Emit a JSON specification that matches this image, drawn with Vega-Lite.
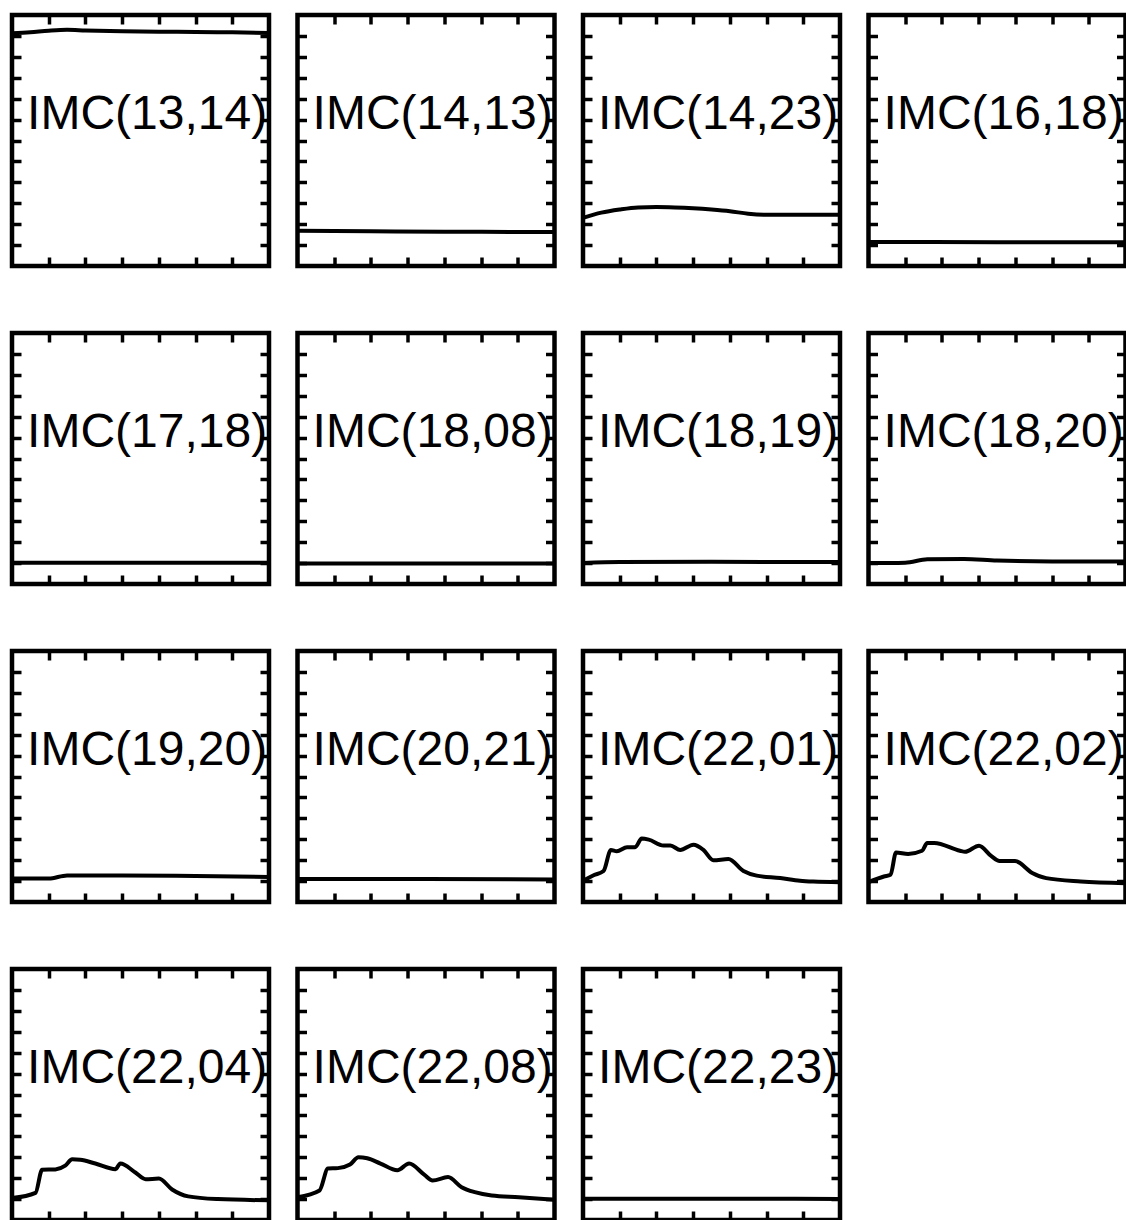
{
  "$schema": "https://vega.github.io/schema/vega-lite/v6.json",
  "padding": {"left": 1, "top": 11, "right": 0, "bottom": 0},
  "background": "white",
  "data": {"values": [
    {"p": "IMC(13,14)", "x": 0, "y": 11.13}, {"p": "IMC(13,14)", "x": 0.5, "y": 11.18}, {"p": "IMC(13,14)", "x": 1, "y": 11.25}, {"p": "IMC(13,14)", "x": 1.5, "y": 11.29}, {"p": "IMC(13,14)", "x": 2, "y": 11.26}, {"p": "IMC(13,14)", "x": 3, "y": 11.22}, {"p": "IMC(13,14)", "x": 4, "y": 11.2}, {"p": "IMC(13,14)", "x": 5, "y": 11.19}, {"p": "IMC(13,14)", "x": 6, "y": 11.17}, {"p": "IMC(13,14)", "x": 7, "y": 11.14},
    {"p": "IMC(14,13)", "x": 0, "y": 1.68}, {"p": "IMC(14,13)", "x": 2, "y": 1.66}, {"p": "IMC(14,13)", "x": 4, "y": 1.64}, {"p": "IMC(14,13)", "x": 6, "y": 1.63}, {"p": "IMC(14,13)", "x": 7, "y": 1.62},
    {"p": "IMC(14,23)", "x": 0, "y": 2.3}, {"p": "IMC(14,23)", "x": 0.5, "y": 2.55}, {"p": "IMC(14,23)", "x": 1, "y": 2.7}, {"p": "IMC(14,23)", "x": 1.5, "y": 2.8}, {"p": "IMC(14,23)", "x": 2, "y": 2.82}, {"p": "IMC(14,23)", "x": 2.5, "y": 2.8}, {"p": "IMC(14,23)", "x": 3, "y": 2.76}, {"p": "IMC(14,23)", "x": 3.5, "y": 2.7}, {"p": "IMC(14,23)", "x": 4, "y": 2.62}, {"p": "IMC(14,23)", "x": 4.5, "y": 2.5}, {"p": "IMC(14,23)", "x": 5, "y": 2.45}, {"p": "IMC(14,23)", "x": 6, "y": 2.45}, {"p": "IMC(14,23)", "x": 7, "y": 2.45},
    {"p": "IMC(16,18)", "x": 0, "y": 1.15}, {"p": "IMC(16,18)", "x": 3.5, "y": 1.14}, {"p": "IMC(16,18)", "x": 7, "y": 1.13},
    {"p": "IMC(17,18)", "x": 0, "y": 1.02}, {"p": "IMC(17,18)", "x": 3.5, "y": 1.02}, {"p": "IMC(17,18)", "x": 7, "y": 1.02},
    {"p": "IMC(18,08)", "x": 0, "y": 0.98}, {"p": "IMC(18,08)", "x": 3.5, "y": 0.98}, {"p": "IMC(18,08)", "x": 7, "y": 0.98},
    {"p": "IMC(18,19)", "x": 0, "y": 1.0}, {"p": "IMC(18,19)", "x": 1, "y": 1.05}, {"p": "IMC(18,19)", "x": 3.5, "y": 1.06}, {"p": "IMC(18,19)", "x": 7, "y": 1.05},
    {"p": "IMC(18,20)", "x": 0, "y": 1.0}, {"p": "IMC(18,20)", "x": 1, "y": 1.02}, {"p": "IMC(18,20)", "x": 1.6, "y": 1.18}, {"p": "IMC(18,20)", "x": 2.6, "y": 1.2}, {"p": "IMC(18,20)", "x": 3.5, "y": 1.12}, {"p": "IMC(18,20)", "x": 5, "y": 1.08}, {"p": "IMC(18,20)", "x": 7, "y": 1.08},
    {"p": "IMC(19,20)", "x": 0, "y": 1.12}, {"p": "IMC(19,20)", "x": 1, "y": 1.12}, {"p": "IMC(19,20)", "x": 1.5, "y": 1.27}, {"p": "IMC(19,20)", "x": 3, "y": 1.27}, {"p": "IMC(19,20)", "x": 5, "y": 1.24}, {"p": "IMC(19,20)", "x": 7, "y": 1.2},
    {"p": "IMC(20,21)", "x": 0, "y": 1.1}, {"p": "IMC(20,21)", "x": 3.5, "y": 1.1}, {"p": "IMC(20,21)", "x": 7, "y": 1.08},
    {"p": "IMC(22,01)", "x": 0, "y": 1.02}, {"p": "IMC(22,01)", "x": 0.29, "y": 1.28}, {"p": "IMC(22,01)", "x": 0.56, "y": 1.48}, {"p": "IMC(22,01)", "x": 0.76, "y": 2.49}, {"p": "IMC(22,01)", "x": 0.92, "y": 2.43}, {"p": "IMC(22,01)", "x": 1.2, "y": 2.62}, {"p": "IMC(22,01)", "x": 1.42, "y": 2.62}, {"p": "IMC(22,01)", "x": 1.6, "y": 3.03}, {"p": "IMC(22,01)", "x": 1.79, "y": 2.98}, {"p": "IMC(22,01)", "x": 2.19, "y": 2.7}, {"p": "IMC(22,01)", "x": 2.38, "y": 2.7}, {"p": "IMC(22,01)", "x": 2.65, "y": 2.49}, {"p": "IMC(22,01)", "x": 3.01, "y": 2.74}, {"p": "IMC(22,01)", "x": 3.28, "y": 2.49}, {"p": "IMC(22,01)", "x": 3.55, "y": 2.0}, {"p": "IMC(22,01)", "x": 3.96, "y": 2.05}, {"p": "IMC(22,01)", "x": 4.37, "y": 1.48}, {"p": "IMC(22,01)", "x": 4.73, "y": 1.26}, {"p": "IMC(22,01)", "x": 5.37, "y": 1.15}, {"p": "IMC(22,01)", "x": 5.91, "y": 1.02}, {"p": "IMC(22,01)", "x": 6.27, "y": 0.98}, {"p": "IMC(22,01)", "x": 7, "y": 0.95},
    {"p": "IMC(22,02)", "x": 0, "y": 0.95}, {"p": "IMC(22,02)", "x": 0.42, "y": 1.22}, {"p": "IMC(22,02)", "x": 0.6, "y": 1.3}, {"p": "IMC(22,02)", "x": 0.75, "y": 2.37}, {"p": "IMC(22,02)", "x": 1.08, "y": 2.3}, {"p": "IMC(22,02)", "x": 1.46, "y": 2.45}, {"p": "IMC(22,02)", "x": 1.6, "y": 2.82}, {"p": "IMC(22,02)", "x": 1.79, "y": 2.82}, {"p": "IMC(22,02)", "x": 2.49, "y": 2.45}, {"p": "IMC(22,02)", "x": 2.63, "y": 2.4}, {"p": "IMC(22,02)", "x": 3.01, "y": 2.69}, {"p": "IMC(22,02)", "x": 3.34, "y": 2.2}, {"p": "IMC(22,02)", "x": 3.57, "y": 1.96}, {"p": "IMC(22,02)", "x": 3.99, "y": 1.96}, {"p": "IMC(22,02)", "x": 4.46, "y": 1.39}, {"p": "IMC(22,02)", "x": 4.84, "y": 1.14}, {"p": "IMC(22,02)", "x": 5.78, "y": 0.98}, {"p": "IMC(22,02)", "x": 7, "y": 0.9},
    {"p": "IMC(22,04)", "x": 0, "y": 1.05}, {"p": "IMC(22,04)", "x": 0.64, "y": 1.3}, {"p": "IMC(22,04)", "x": 0.82, "y": 2.4}, {"p": "IMC(22,04)", "x": 1.18, "y": 2.42}, {"p": "IMC(22,04)", "x": 1.45, "y": 2.6}, {"p": "IMC(22,04)", "x": 1.64, "y": 2.9}, {"p": "IMC(22,04)", "x": 1.86, "y": 2.88}, {"p": "IMC(22,04)", "x": 2.27, "y": 2.7}, {"p": "IMC(22,04)", "x": 2.82, "y": 2.43}, {"p": "IMC(22,04)", "x": 2.95, "y": 2.7}, {"p": "IMC(22,04)", "x": 3.36, "y": 2.27}, {"p": "IMC(22,04)", "x": 3.64, "y": 1.95}, {"p": "IMC(22,04)", "x": 4.0, "y": 1.98}, {"p": "IMC(22,04)", "x": 4.36, "y": 1.46}, {"p": "IMC(22,04)", "x": 4.8, "y": 1.13}, {"p": "IMC(22,04)", "x": 5.6, "y": 1.0}, {"p": "IMC(22,04)", "x": 7, "y": 0.94},
    {"p": "IMC(22,08)", "x": 0, "y": 1.09}, {"p": "IMC(22,08)", "x": 0.6, "y": 1.41}, {"p": "IMC(22,08)", "x": 0.83, "y": 2.46}, {"p": "IMC(22,08)", "x": 1.1, "y": 2.48}, {"p": "IMC(22,08)", "x": 1.43, "y": 2.65}, {"p": "IMC(22,08)", "x": 1.66, "y": 3.0}, {"p": "IMC(22,08)", "x": 1.9, "y": 2.95}, {"p": "IMC(22,08)", "x": 2.26, "y": 2.7}, {"p": "IMC(22,08)", "x": 2.72, "y": 2.38}, {"p": "IMC(22,08)", "x": 3.04, "y": 2.7}, {"p": "IMC(22,08)", "x": 3.45, "y": 2.17}, {"p": "IMC(22,08)", "x": 3.68, "y": 1.89}, {"p": "IMC(22,08)", "x": 4.1, "y": 2.05}, {"p": "IMC(22,08)", "x": 4.47, "y": 1.57}, {"p": "IMC(22,08)", "x": 4.83, "y": 1.33}, {"p": "IMC(22,08)", "x": 5.29, "y": 1.17}, {"p": "IMC(22,08)", "x": 6.03, "y": 1.09}, {"p": "IMC(22,08)", "x": 7, "y": 0.97},
    {"p": "IMC(22,23)", "x": 0, "y": 1.02}, {"p": "IMC(22,23)", "x": 3.5, "y": 1.02}, {"p": "IMC(22,23)", "x": 7, "y": 1.0}
  ]},
  "columns": 4,
  "bounds": "flush",
  "spacing": {"row": 67, "column": 28.5},
  "concat": [
    {"transform": [{"filter": "datum.p == 'IMC(13,14)'"}], "layer": [
      {"mark": "line", "encoding": {"x": {"field": "x", "type": "quantitative", "scale": {"domain": [0, 7]}, "axis": {"orient": "bottom", "values": [1, 2, 3, 4, 5, 6], "title": null}}, "y": {"field": "y", "type": "quantitative", "scale": {"domain": [0, 12]}, "axis": {"orient": "left", "values": [1, 2, 3, 4, 5, 6, 7, 8, 9, 10, 11], "title": null}}}},
      {"transform": [{"filter": "datum.x == 0"}], "mark": "text", "encoding": {"x": {"datum": 3.68, "type": "quantitative", "axis": {"orient": "top", "values": [1, 2, 3, 4, 5, 6], "title": null}}, "y": {"datum": 6.55, "type": "quantitative", "axis": {"orient": "right", "values": [1, 2, 3, 4, 5, 6, 7, 8, 9, 10, 11], "title": null}}, "text": {"field": "p"}}}
    ], "resolve": {"axis": {"x": "independent", "y": "independent"}}},
    {"transform": [{"filter": "datum.p == 'IMC(14,13)'"}], "layer": [
      {"mark": "line", "encoding": {"x": {"field": "x", "type": "quantitative", "scale": {"domain": [0, 7]}, "axis": {"orient": "bottom", "values": [1, 2, 3, 4, 5, 6], "title": null}}, "y": {"field": "y", "type": "quantitative", "scale": {"domain": [0, 12]}, "axis": {"orient": "left", "values": [1, 2, 3, 4, 5, 6, 7, 8, 9, 10, 11], "title": null}}}},
      {"transform": [{"filter": "datum.x == 0"}], "mark": "text", "encoding": {"x": {"datum": 3.68, "type": "quantitative", "axis": {"orient": "top", "values": [1, 2, 3, 4, 5, 6], "title": null}}, "y": {"datum": 6.55, "type": "quantitative", "axis": {"orient": "right", "values": [1, 2, 3, 4, 5, 6, 7, 8, 9, 10, 11], "title": null}}, "text": {"field": "p"}}}
    ], "resolve": {"axis": {"x": "independent", "y": "independent"}}},
    {"transform": [{"filter": "datum.p == 'IMC(14,23)'"}], "layer": [
      {"mark": "line", "encoding": {"x": {"field": "x", "type": "quantitative", "scale": {"domain": [0, 7]}, "axis": {"orient": "bottom", "values": [1, 2, 3, 4, 5, 6], "title": null}}, "y": {"field": "y", "type": "quantitative", "scale": {"domain": [0, 12]}, "axis": {"orient": "left", "values": [1, 2, 3, 4, 5, 6, 7, 8, 9, 10, 11], "title": null}}}},
      {"transform": [{"filter": "datum.x == 0"}], "mark": "text", "encoding": {"x": {"datum": 3.68, "type": "quantitative", "axis": {"orient": "top", "values": [1, 2, 3, 4, 5, 6], "title": null}}, "y": {"datum": 6.55, "type": "quantitative", "axis": {"orient": "right", "values": [1, 2, 3, 4, 5, 6, 7, 8, 9, 10, 11], "title": null}}, "text": {"field": "p"}}}
    ], "resolve": {"axis": {"x": "independent", "y": "independent"}}},
    {"transform": [{"filter": "datum.p == 'IMC(16,18)'"}], "layer": [
      {"mark": "line", "encoding": {"x": {"field": "x", "type": "quantitative", "scale": {"domain": [0, 7]}, "axis": {"orient": "bottom", "values": [1, 2, 3, 4, 5, 6], "title": null}}, "y": {"field": "y", "type": "quantitative", "scale": {"domain": [0, 12]}, "axis": {"orient": "left", "values": [1, 2, 3, 4, 5, 6, 7, 8, 9, 10, 11], "title": null}}}},
      {"transform": [{"filter": "datum.x == 0"}], "mark": "text", "encoding": {"x": {"datum": 3.68, "type": "quantitative", "axis": {"orient": "top", "values": [1, 2, 3, 4, 5, 6], "title": null}}, "y": {"datum": 6.55, "type": "quantitative", "axis": {"orient": "right", "values": [1, 2, 3, 4, 5, 6, 7, 8, 9, 10, 11], "title": null}}, "text": {"field": "p"}}}
    ], "resolve": {"axis": {"x": "independent", "y": "independent"}}},
    {"transform": [{"filter": "datum.p == 'IMC(17,18)'"}], "layer": [
      {"mark": "line", "encoding": {"x": {"field": "x", "type": "quantitative", "scale": {"domain": [0, 7]}, "axis": {"orient": "bottom", "values": [1, 2, 3, 4, 5, 6], "title": null}}, "y": {"field": "y", "type": "quantitative", "scale": {"domain": [0, 12]}, "axis": {"orient": "left", "values": [1, 2, 3, 4, 5, 6, 7, 8, 9, 10, 11], "title": null}}}},
      {"transform": [{"filter": "datum.x == 0"}], "mark": "text", "encoding": {"x": {"datum": 3.68, "type": "quantitative", "axis": {"orient": "top", "values": [1, 2, 3, 4, 5, 6], "title": null}}, "y": {"datum": 6.55, "type": "quantitative", "axis": {"orient": "right", "values": [1, 2, 3, 4, 5, 6, 7, 8, 9, 10, 11], "title": null}}, "text": {"field": "p"}}}
    ], "resolve": {"axis": {"x": "independent", "y": "independent"}}},
    {"transform": [{"filter": "datum.p == 'IMC(18,08)'"}], "layer": [
      {"mark": "line", "encoding": {"x": {"field": "x", "type": "quantitative", "scale": {"domain": [0, 7]}, "axis": {"orient": "bottom", "values": [1, 2, 3, 4, 5, 6], "title": null}}, "y": {"field": "y", "type": "quantitative", "scale": {"domain": [0, 12]}, "axis": {"orient": "left", "values": [1, 2, 3, 4, 5, 6, 7, 8, 9, 10, 11], "title": null}}}},
      {"transform": [{"filter": "datum.x == 0"}], "mark": "text", "encoding": {"x": {"datum": 3.68, "type": "quantitative", "axis": {"orient": "top", "values": [1, 2, 3, 4, 5, 6], "title": null}}, "y": {"datum": 6.55, "type": "quantitative", "axis": {"orient": "right", "values": [1, 2, 3, 4, 5, 6, 7, 8, 9, 10, 11], "title": null}}, "text": {"field": "p"}}}
    ], "resolve": {"axis": {"x": "independent", "y": "independent"}}},
    {"transform": [{"filter": "datum.p == 'IMC(18,19)'"}], "layer": [
      {"mark": "line", "encoding": {"x": {"field": "x", "type": "quantitative", "scale": {"domain": [0, 7]}, "axis": {"orient": "bottom", "values": [1, 2, 3, 4, 5, 6], "title": null}}, "y": {"field": "y", "type": "quantitative", "scale": {"domain": [0, 12]}, "axis": {"orient": "left", "values": [1, 2, 3, 4, 5, 6, 7, 8, 9, 10, 11], "title": null}}}},
      {"transform": [{"filter": "datum.x == 0"}], "mark": "text", "encoding": {"x": {"datum": 3.68, "type": "quantitative", "axis": {"orient": "top", "values": [1, 2, 3, 4, 5, 6], "title": null}}, "y": {"datum": 6.55, "type": "quantitative", "axis": {"orient": "right", "values": [1, 2, 3, 4, 5, 6, 7, 8, 9, 10, 11], "title": null}}, "text": {"field": "p"}}}
    ], "resolve": {"axis": {"x": "independent", "y": "independent"}}},
    {"transform": [{"filter": "datum.p == 'IMC(18,20)'"}], "layer": [
      {"mark": "line", "encoding": {"x": {"field": "x", "type": "quantitative", "scale": {"domain": [0, 7]}, "axis": {"orient": "bottom", "values": [1, 2, 3, 4, 5, 6], "title": null}}, "y": {"field": "y", "type": "quantitative", "scale": {"domain": [0, 12]}, "axis": {"orient": "left", "values": [1, 2, 3, 4, 5, 6, 7, 8, 9, 10, 11], "title": null}}}},
      {"transform": [{"filter": "datum.x == 0"}], "mark": "text", "encoding": {"x": {"datum": 3.68, "type": "quantitative", "axis": {"orient": "top", "values": [1, 2, 3, 4, 5, 6], "title": null}}, "y": {"datum": 6.55, "type": "quantitative", "axis": {"orient": "right", "values": [1, 2, 3, 4, 5, 6, 7, 8, 9, 10, 11], "title": null}}, "text": {"field": "p"}}}
    ], "resolve": {"axis": {"x": "independent", "y": "independent"}}},
    {"transform": [{"filter": "datum.p == 'IMC(19,20)'"}], "layer": [
      {"mark": "line", "encoding": {"x": {"field": "x", "type": "quantitative", "scale": {"domain": [0, 7]}, "axis": {"orient": "bottom", "values": [1, 2, 3, 4, 5, 6], "title": null}}, "y": {"field": "y", "type": "quantitative", "scale": {"domain": [0, 12]}, "axis": {"orient": "left", "values": [1, 2, 3, 4, 5, 6, 7, 8, 9, 10, 11], "title": null}}}},
      {"transform": [{"filter": "datum.x == 0"}], "mark": "text", "encoding": {"x": {"datum": 3.68, "type": "quantitative", "axis": {"orient": "top", "values": [1, 2, 3, 4, 5, 6], "title": null}}, "y": {"datum": 6.55, "type": "quantitative", "axis": {"orient": "right", "values": [1, 2, 3, 4, 5, 6, 7, 8, 9, 10, 11], "title": null}}, "text": {"field": "p"}}}
    ], "resolve": {"axis": {"x": "independent", "y": "independent"}}},
    {"transform": [{"filter": "datum.p == 'IMC(20,21)'"}], "layer": [
      {"mark": "line", "encoding": {"x": {"field": "x", "type": "quantitative", "scale": {"domain": [0, 7]}, "axis": {"orient": "bottom", "values": [1, 2, 3, 4, 5, 6], "title": null}}, "y": {"field": "y", "type": "quantitative", "scale": {"domain": [0, 12]}, "axis": {"orient": "left", "values": [1, 2, 3, 4, 5, 6, 7, 8, 9, 10, 11], "title": null}}}},
      {"transform": [{"filter": "datum.x == 0"}], "mark": "text", "encoding": {"x": {"datum": 3.68, "type": "quantitative", "axis": {"orient": "top", "values": [1, 2, 3, 4, 5, 6], "title": null}}, "y": {"datum": 6.55, "type": "quantitative", "axis": {"orient": "right", "values": [1, 2, 3, 4, 5, 6, 7, 8, 9, 10, 11], "title": null}}, "text": {"field": "p"}}}
    ], "resolve": {"axis": {"x": "independent", "y": "independent"}}},
    {"transform": [{"filter": "datum.p == 'IMC(22,01)'"}], "layer": [
      {"mark": "line", "encoding": {"x": {"field": "x", "type": "quantitative", "scale": {"domain": [0, 7]}, "axis": {"orient": "bottom", "values": [1, 2, 3, 4, 5, 6], "title": null}}, "y": {"field": "y", "type": "quantitative", "scale": {"domain": [0, 12]}, "axis": {"orient": "left", "values": [1, 2, 3, 4, 5, 6, 7, 8, 9, 10, 11], "title": null}}}},
      {"transform": [{"filter": "datum.x == 0"}], "mark": "text", "encoding": {"x": {"datum": 3.68, "type": "quantitative", "axis": {"orient": "top", "values": [1, 2, 3, 4, 5, 6], "title": null}}, "y": {"datum": 6.55, "type": "quantitative", "axis": {"orient": "right", "values": [1, 2, 3, 4, 5, 6, 7, 8, 9, 10, 11], "title": null}}, "text": {"field": "p"}}}
    ], "resolve": {"axis": {"x": "independent", "y": "independent"}}},
    {"transform": [{"filter": "datum.p == 'IMC(22,02)'"}], "layer": [
      {"mark": "line", "encoding": {"x": {"field": "x", "type": "quantitative", "scale": {"domain": [0, 7]}, "axis": {"orient": "bottom", "values": [1, 2, 3, 4, 5, 6], "title": null}}, "y": {"field": "y", "type": "quantitative", "scale": {"domain": [0, 12]}, "axis": {"orient": "left", "values": [1, 2, 3, 4, 5, 6, 7, 8, 9, 10, 11], "title": null}}}},
      {"transform": [{"filter": "datum.x == 0"}], "mark": "text", "encoding": {"x": {"datum": 3.68, "type": "quantitative", "axis": {"orient": "top", "values": [1, 2, 3, 4, 5, 6], "title": null}}, "y": {"datum": 6.55, "type": "quantitative", "axis": {"orient": "right", "values": [1, 2, 3, 4, 5, 6, 7, 8, 9, 10, 11], "title": null}}, "text": {"field": "p"}}}
    ], "resolve": {"axis": {"x": "independent", "y": "independent"}}},
    {"transform": [{"filter": "datum.p == 'IMC(22,04)'"}], "layer": [
      {"mark": "line", "encoding": {"x": {"field": "x", "type": "quantitative", "scale": {"domain": [0, 7]}, "axis": {"orient": "bottom", "values": [1, 2, 3, 4, 5, 6], "title": null}}, "y": {"field": "y", "type": "quantitative", "scale": {"domain": [0, 12]}, "axis": {"orient": "left", "values": [1, 2, 3, 4, 5, 6, 7, 8, 9, 10, 11], "title": null}}}},
      {"transform": [{"filter": "datum.x == 0"}], "mark": "text", "encoding": {"x": {"datum": 3.68, "type": "quantitative", "axis": {"orient": "top", "values": [1, 2, 3, 4, 5, 6], "title": null}}, "y": {"datum": 6.55, "type": "quantitative", "axis": {"orient": "right", "values": [1, 2, 3, 4, 5, 6, 7, 8, 9, 10, 11], "title": null}}, "text": {"field": "p"}}}
    ], "resolve": {"axis": {"x": "independent", "y": "independent"}}},
    {"transform": [{"filter": "datum.p == 'IMC(22,08)'"}], "layer": [
      {"mark": "line", "encoding": {"x": {"field": "x", "type": "quantitative", "scale": {"domain": [0, 7]}, "axis": {"orient": "bottom", "values": [1, 2, 3, 4, 5, 6], "title": null}}, "y": {"field": "y", "type": "quantitative", "scale": {"domain": [0, 12]}, "axis": {"orient": "left", "values": [1, 2, 3, 4, 5, 6, 7, 8, 9, 10, 11], "title": null}}}},
      {"transform": [{"filter": "datum.x == 0"}], "mark": "text", "encoding": {"x": {"datum": 3.68, "type": "quantitative", "axis": {"orient": "top", "values": [1, 2, 3, 4, 5, 6], "title": null}}, "y": {"datum": 6.55, "type": "quantitative", "axis": {"orient": "right", "values": [1, 2, 3, 4, 5, 6, 7, 8, 9, 10, 11], "title": null}}, "text": {"field": "p"}}}
    ], "resolve": {"axis": {"x": "independent", "y": "independent"}}},
    {"transform": [{"filter": "datum.p == 'IMC(22,23)'"}], "layer": [
      {"mark": "line", "encoding": {"x": {"field": "x", "type": "quantitative", "scale": {"domain": [0, 7]}, "axis": {"orient": "bottom", "values": [1, 2, 3, 4, 5, 6], "title": null}}, "y": {"field": "y", "type": "quantitative", "scale": {"domain": [0, 12]}, "axis": {"orient": "left", "values": [1, 2, 3, 4, 5, 6, 7, 8, 9, 10, 11], "title": null}}}},
      {"transform": [{"filter": "datum.x == 0"}], "mark": "text", "encoding": {"x": {"datum": 3.68, "type": "quantitative", "axis": {"orient": "top", "values": [1, 2, 3, 4, 5, 6], "title": null}}, "y": {"datum": 6.55, "type": "quantitative", "axis": {"orient": "right", "values": [1, 2, 3, 4, 5, 6, 7, 8, 9, 10, 11], "title": null}}, "text": {"field": "p"}}}
    ], "resolve": {"axis": {"x": "independent", "y": "independent"}}}
  ],
  "config": {
    "view": {"continuousWidth": 257, "continuousHeight": 251, "stroke": "black", "strokeWidth": 4.5},
    "axis": {"labels": false, "domain": false, "grid": false, "ticks": true, "tickSize": -9, "tickWidth": 3.5, "tickColor": "black"},
    "line": {"color": "black", "strokeWidth": 4, "interpolate": "monotone"},
    "text": {"color": "black", "font": "Liberation Sans", "fontSize": 48, "align": "center", "baseline": "alphabetic"}
  }
}
